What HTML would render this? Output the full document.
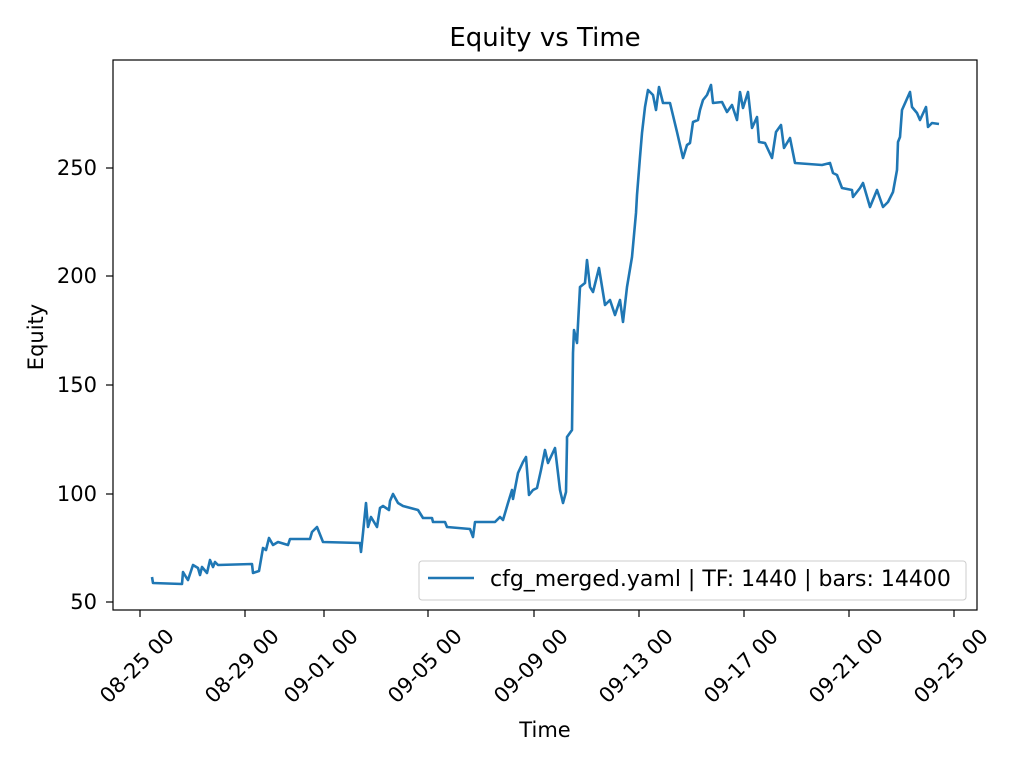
<!DOCTYPE html>
<html><head><meta charset="utf-8"><style>
body{margin:0;background:#fff;}
text{font-family:"DejaVu Sans","Liberation Sans",sans-serif;fill:#000;}
</style></head><body>
<svg width="1024" height="768" xmlns="http://www.w3.org/2000/svg">
<rect width="1024" height="768" fill="#fff"/>
<text x="545" y="46" font-size="26" text-anchor="middle">Equity vs Time</text>
<polyline fill="none" stroke="#1f77b4" stroke-width="2.6" stroke-linejoin="round" points="
152,577 153,583 182,584 183,572 186,577 188,580 193,565 198,568 200,575 202,567 207,573 210,560 213,567 215,562 218,565 252,564 253,573 259,571 263,548 266,550 269,538 273,545 278,542 288,545 290,539 310,539 312,532 317,527 323,542 360,543 361,552 363,533 366,503 368,527 371,517 377,527 380,508 383,506 389,510 390,501 393,494 398,503 403,506 418,510 423,518 432,518 433,522 445,522 447,527 470,529 473,537 475,522 495,522 500,517 503,520 508,503 512,490 513,499 518,473 523,462 526,457 529,495 533,490 537,488 541,470 545,450 548,463 555,448 560,490 563,503 566,492 567,442 567,437 572,430 573,353 574,330 577,343 580,287 585,283 587,260 590,287 593,292 599,268 605,305 610,300 615,315 620,300 623,322 627,287 632,257 636,213 637,195 640,157 642,133 645,107 648,90 653,95 656,110 659,87 663,103 670,103 677,132 683,158 687,145 690,143 693,122 698,120 700,110 703,100 707,95 711,85 713,103 722,102 727,112 732,105 737,120 740,92 743,108 748,92 752,128 757,117 759,142 765,143 772,158 776,132 781,125 784,148 790,138 795,163 822,165 830,163 833,173 837,175 842,188 852,190 853,197 860,188 863,183 870,207 877,190 883,207 888,202 893,192 897,170 898,142 900,137 902,110 910,92 912,107 917,113 920,120 926,107 928,127 932,123 939,124"/>
<rect x="113" y="60" width="864" height="550" fill="none" stroke="#000" stroke-width="1.2"/>
<g stroke="#000" stroke-width="1.2">
<line x1="113" y1="602" x2="106" y2="602"/><line x1="113" y1="494" x2="106" y2="494"/><line x1="113" y1="385" x2="106" y2="385"/><line x1="113" y1="276" x2="106" y2="276"/><line x1="113" y1="168" x2="106" y2="168"/>
<line x1="140" y1="610" x2="140" y2="617"/><line x1="245" y1="610" x2="245" y2="617"/><line x1="324" y1="610" x2="324" y2="617"/><line x1="428" y1="610" x2="428" y2="617"/><line x1="534" y1="610" x2="534" y2="617"/><line x1="639" y1="610" x2="639" y2="617"/><line x1="744" y1="610" x2="744" y2="617"/><line x1="849" y1="610" x2="849" y2="617"/><line x1="954" y1="610" x2="954" y2="617"/>
</g>
<g font-size="21" text-anchor="end">
<text x="97" y="609">50</text><text x="97" y="501">100</text><text x="97" y="392">150</text><text x="97" y="283">200</text><text x="97" y="175">250</text>
</g>
<g font-size="21" text-anchor="middle" dominant-baseline="central">
<text transform="translate(137,666) rotate(-45)">08-25 00</text>
<text transform="translate(242,666) rotate(-45)">08-29 00</text>
<text transform="translate(321,666) rotate(-45)">09-01 00</text>
<text transform="translate(425,666) rotate(-45)">09-05 00</text>
<text transform="translate(531,666) rotate(-45)">09-09 00</text>
<text transform="translate(636,666) rotate(-45)">09-13 00</text>
<text transform="translate(741,666) rotate(-45)">09-17 00</text>
<text transform="translate(846,666) rotate(-45)">09-21 00</text>
<text transform="translate(951,666) rotate(-45)">09-25 00</text>
</g>
<text x="545" y="737" font-size="21" text-anchor="middle">Time</text>
<text transform="translate(43,337) rotate(-90)" font-size="21" text-anchor="middle">Equity</text>
<rect x="419" y="561" width="547" height="39" rx="3" fill="#fff" fill-opacity="0.8" stroke="#ccc"/>
<line x1="428" y1="578" x2="474" y2="578" stroke="#1f77b4" stroke-width="2.6"/>
<text x="490" y="586" font-size="22">cfg_merged.yaml | TF: 1440 | bars: 14400</text>
</svg>
</body></html>
